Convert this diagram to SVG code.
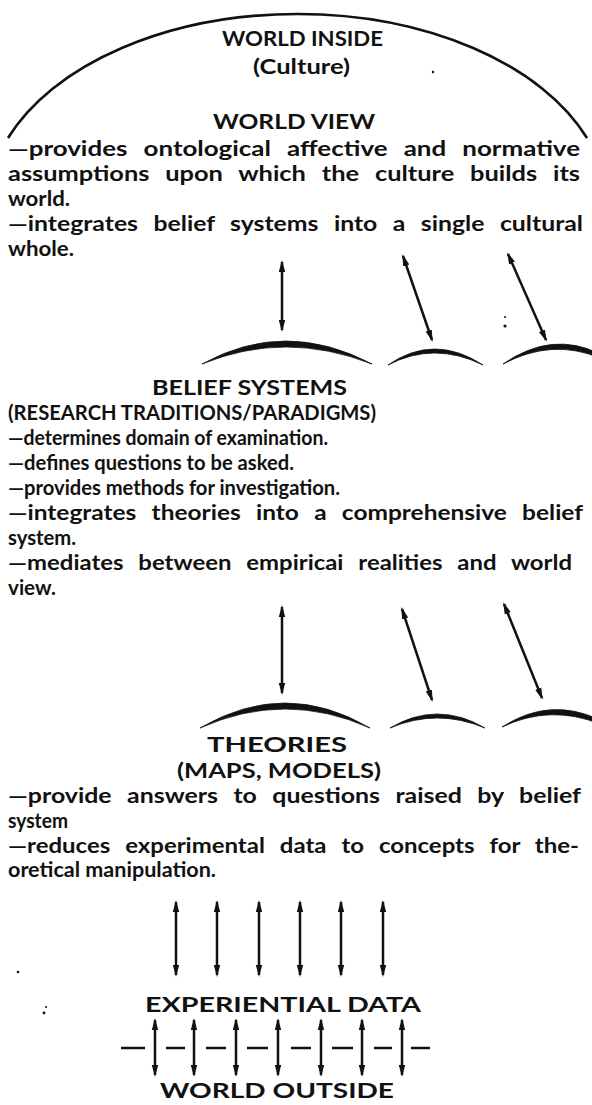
<svg xmlns="http://www.w3.org/2000/svg" width="592" height="1105" viewBox="0 0 592 1105">
<style>
.h{font-family:Lato,"Liberation Sans",sans-serif;font-weight:700;font-size:21px;fill:#111}
.b{font-family:Lato,"Liberation Sans",sans-serif;font-weight:700;font-size:21px;fill:#111}
.j{word-spacing:8px}
.ln{stroke:#111;stroke-width:2.5;fill:none;marker-start:url(#ah);marker-end:url(#ah)}
.ds{stroke:#111;stroke-width:2.5;fill:none}
.arc{fill:#111;stroke:#111;stroke-width:0.8}
</style>
<defs>
<marker id="ah" viewBox="0 0 12 8" refX="10" refY="4" markerWidth="12" markerHeight="8" markerUnits="userSpaceOnUse" orient="auto-start-reverse">
<path d="M0,0.8 L12,4 L0,7.2 Z" fill="#111"/>
</marker>
</defs>
<rect width="592" height="1105" fill="#fff"/>

<g id="world-inside">
<path d="M8,138 A310,193 0 0 1 587,138" fill="none" stroke="#111" stroke-width="2.6"/>
<text class="h" x="222" y="46" textLength="161" lengthAdjust="spacingAndGlyphs">WORLD INSIDE</text>
<text class="b" x="253" y="74" textLength="97" lengthAdjust="spacingAndGlyphs">(Culture)</text>
</g>

<g id="world-view">
<text class="h" x="213" y="129" textLength="162" lengthAdjust="spacingAndGlyphs">WORLD VIEW</text>
<text class="b j" x="8" y="156" textLength="572" lengthAdjust="spacingAndGlyphs">—provides ontological affective and normative</text>
<text class="b j" x="8" y="181" textLength="572" lengthAdjust="spacingAndGlyphs">assumptions upon which the culture builds its</text>
<text class="b" x="8" y="206" textLength="62" lengthAdjust="spacingAndGlyphs">world.</text>
<text class="b j" x="8" y="231" textLength="575" lengthAdjust="spacingAndGlyphs">—integrates belief systems into a single cultural</text>
<text class="b" x="8" y="256" textLength="66" lengthAdjust="spacingAndGlyphs">whole.</text>
</g>

<g id="belief-systems">
<path class="arc" d="M202,364 Q285,318 372,364 Q285,330 202,364 Z"/>
<path class="arc" d="M388,365 Q434,333 483,365 Q434,341 388,365 Z"/>
<path class="arc" d="M503,364 Q552,330 600,354 L600,358 Q552,338 503,364 Z"/>
<text class="h" x="152" y="395" textLength="195" lengthAdjust="spacingAndGlyphs">BELIEF SYSTEMS</text>
<text class="b" x="8" y="420" textLength="368" lengthAdjust="spacingAndGlyphs">(RESEARCH TRADITIONS/PARADIGMS)</text>
<text class="b" x="8" y="445" textLength="320" lengthAdjust="spacingAndGlyphs">—determines domain of examination.</text>
<text class="b" x="8" y="470" textLength="286" lengthAdjust="spacingAndGlyphs">—defines questions to be asked.</text>
<text class="b" x="8" y="495" textLength="332" lengthAdjust="spacingAndGlyphs">—provides methods for investigation.</text>
<text class="b j" x="8" y="520" textLength="575" lengthAdjust="spacingAndGlyphs">—integrates theories into a comprehensive belief</text>
<text class="b" x="8" y="545" textLength="68" lengthAdjust="spacingAndGlyphs">system.</text>
<text class="b j" x="8" y="570" textLength="564" lengthAdjust="spacingAndGlyphs">—mediates between empiricai realities and world</text>
<text class="b" x="8" y="595" textLength="48" lengthAdjust="spacingAndGlyphs">view.</text>
</g>

<g id="theories">
<path class="arc" d="M200,728 Q285,678 370,728 Q285,690 200,728 Z"/>
<path class="arc" d="M390,728 Q437,700 485,728 Q437,708 390,728 Z"/>
<path class="arc" d="M502,727 Q550,696 600,720 L600,724 Q550,704 502,727 Z"/>
<text class="h" x="207" y="752" textLength="140" lengthAdjust="spacingAndGlyphs">THEORIES</text>
<text class="b" x="177" y="778" textLength="204" lengthAdjust="spacingAndGlyphs">(MAPS, MODELS)</text>
<text class="b j" x="8" y="803" textLength="573" lengthAdjust="spacingAndGlyphs">—provide answers to questions raised by belief</text>
<text class="b" x="8" y="828" textLength="60" lengthAdjust="spacingAndGlyphs">system</text>
<text class="b j" x="8" y="853" textLength="571" lengthAdjust="spacingAndGlyphs">—reduces experimental data to concepts for the-</text>
<text class="b" x="8" y="877" textLength="208" lengthAdjust="spacingAndGlyphs">oretical manipulation.</text>
</g>

<g id="experiential-data">
<text class="h" x="145" y="1012" textLength="276" lengthAdjust="spacingAndGlyphs">EXPERIENTIAL DATA</text>
</g>

<g id="world-outside">
<text class="h" x="160" y="1098" textLength="234" lengthAdjust="spacingAndGlyphs">WORLD OUTSIDE</text>
</g>

<g id="connectors">
<line class="ln" x1="282" y1="262" x2="282" y2="330"/>
<line class="ln" x1="403" y1="256" x2="432" y2="340"/>
<line class="ln" x1="508" y1="254" x2="546" y2="340"/>
<line class="ln" x1="282" y1="607" x2="282" y2="693"/>
<line class="ln" x1="402" y1="609" x2="432" y2="700"/>
<line class="ln" x1="504" y1="604" x2="542" y2="698"/>
<line class="ln" x1="176" y1="902" x2="176" y2="975"/>
<line class="ln" x1="217" y1="902" x2="217" y2="975"/>
<line class="ln" x1="259" y1="902" x2="259" y2="975"/>
<line class="ln" x1="300" y1="902" x2="300" y2="975"/>
<line class="ln" x1="341" y1="902" x2="341" y2="975"/>
<line class="ln" x1="383" y1="902" x2="383" y2="975"/>
<line class="ln" x1="155" y1="1020" x2="155" y2="1075"/>
<line class="ln" x1="194" y1="1020" x2="194" y2="1075"/>
<line class="ln" x1="236" y1="1020" x2="236" y2="1075"/>
<line class="ln" x1="278" y1="1020" x2="278" y2="1075"/>
<line class="ln" x1="321" y1="1020" x2="321" y2="1075"/>
<line class="ln" x1="362" y1="1020" x2="362" y2="1075"/>
<line class="ln" x1="402" y1="1020" x2="402" y2="1075"/>
<path class="ds" d="M121,1048 H145 M166,1048 H185 M206,1048 H226 M247,1048 H268 M291,1048 H311 M332,1048 H353 M374,1048 H392 M411,1048 H430"/>
</g>

<g id="specks" fill="#111">
<circle cx="433" cy="72" r="1.2"/>
<circle cx="505" cy="317" r="1"/>
<circle cx="505" cy="326" r="1.6"/>
<circle cx="18" cy="972" r="1.3"/>
<circle cx="46" cy="1007" r="1"/>
<circle cx="44" cy="1013" r="1.4"/>
</g>
</svg>
